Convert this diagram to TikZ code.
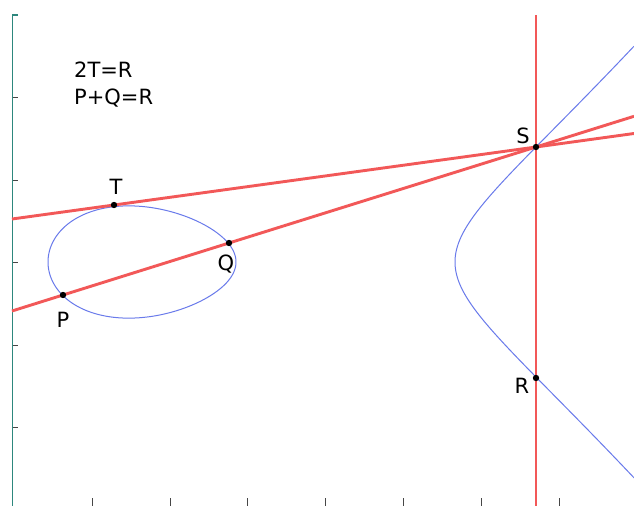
\documentclass[tikz,border=0pt]{standalone}
\usepackage{fontspec}
\setmainfont{DejaVu Sans}
\definecolor{lred}{RGB}{242,88,88}
\definecolor{cblue}{RGB}{105,122,235}
\definecolor{axteal}{RGB}{45,135,125}
\definecolor{tickgray}{RGB}{70,70,70}
\tikzset{
  redline/.style={lred,line width=2.9pt},
  curveline/.style={cblue,line width=1pt},
  axisline/.style={axteal,line width=1.3pt},
  tickline/.style={tickgray,line width=1pt},
  lbl/.style={inner sep=0pt,anchor=base,font=\fontsize{21}{25}\selectfont},
  eqtext/.style={inner sep=0pt,anchor=base west,font=\fontsize{21}{25}\selectfont},
}
\begin{document}
\begin{tikzpicture}[x=1pt,y=-1pt]
\useasboundingbox[fill=white] (0,0) rectangle (634,506);
% axes
\coordinate (axtop) at (12.5,15);
\coordinate (axbot) at (12.5,506);
\draw[axisline] (18,15) -- (axtop) -- (axbot);
\foreach \yy in {97,180,262,345,427} \draw[tickline] (13,\yy) -- (18,\yy);
\foreach \xx in {92,170,247,325,403,481,559} \draw[tickline] (\xx,498) -- (\xx,506);
% points
\coordinate (S) at (536,147);
\coordinate (T) at (114,205);
\coordinate (Q) at (229,243);
\coordinate (P) at (63,295);
\coordinate (R) at (536,378);
\coordinate (tl) at (12,219);
\coordinate (tr) at (634,133.5);
\coordinate (pl) at (12,311);
\coordinate (pr) at (634,116.3);
\coordinate (vtop) at (536,15);
\coordinate (vbot) at (536,506);
% curve
\draw[curveline] plot[domain=0:360,samples=240,variable=\t,smooth]
  ({142-94*cos(\t)},{262-3.1391*sin(\t)*sqrt(313+94*cos(\t))});
\draw[curveline] plot[domain=-13.38:13.38,samples=200,variable=\s,smooth]
  ({455+\s*\s},{262-0.033395*\s*sqrt(407+\s*\s)*sqrt(219+\s*\s)});
% red lines
\draw[redline] (vtop) -- (S) -- (R) -- (vbot);
\draw[redline] (tl) -- (T) -- (S) -- (tr);
\draw[redline] (pl) -- (P) -- (Q) -- (S) -- (pr);
% dots
\foreach \p in {S,T,Q,P,R} \fill[black] (\p) circle (3.2);
% labels
\node[lbl] (Tlab) at (116,194) {T};
\node[lbl] (Qlab) at (226,270) {Q};
\node[lbl] (Plab) at (63,327) {P};
\node[lbl] (Slab) at (523,143) {S};
\node[lbl] (Rlab) at (522,393) {R};
\node[eqtext] (eq1) at (74,77) {2T=R};
\node[eqtext] (eq2) at (74,104) {P+Q=R};
\end{tikzpicture}
\end{document}
